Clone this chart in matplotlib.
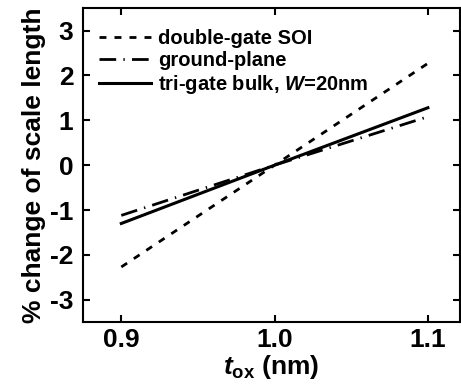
import numpy as np
import matplotlib
matplotlib.use("Agg")
import matplotlib.pyplot as plt
from matplotlib import rcParams

rcParams.update({
    "font.family": "Liberation Sans",
    "font.weight": "bold",
    "axes.labelweight": "bold",
    "axes.unicode_minus": False,
    "mathtext.fontset": "custom",
    "mathtext.rm": "Liberation Sans:bold",
    "mathtext.it": "Liberation Sans:italic:bold",
    "mathtext.bf": "Liberation Sans:bold",
})

# values
t_ox = [0.9, 1.0, 1.1]
dg_soi = [-2.27, 0.0, 2.27]
ground_plane = [-1.12, 0.0, 1.08]
tri_gate = [-1.3, 0.0, 1.28]
labels = ["double-gate SOI", "ground-plane", r"tri-gate bulk, $W$=20nm"]

fig = plt.figure(figsize=(4.61, 3.9), dpi=100)
ax = fig.add_axes([0.18, 0.174, 0.818, 0.805])

ax.plot(t_ox, dg_soi, color="k", lw=2, dashes=(2.5, 2.9), label=labels[0])
ax.plot(t_ox, ground_plane, color="k", lw=2, dashes=(6.0, 2.6, 0.5, 2.6), label=labels[1])
ax.plot(t_ox, tri_gate, color="k", lw=2.2, label=labels[2])

ax.set_xlim(0.875, 1.121)
ax.set_ylim(-3.5, 3.5)
ax.set_xticks([0.9, 1.0, 1.1])
ax.set_xticklabels(["0.9", "1.0", "1.1"])
ax.set_yticks([-3, -2, -1, 0, 1, 2, 3])
ax.tick_params(direction="in", length=5, width=1.5, top=True, right=True,
               labelsize=19, pad=4)
ax.tick_params(axis="y", pad=7)
for sp in ax.spines.values():
    sp.set_linewidth(1.5)

ax.set_xlabel(r"$t_{\mathrm{ox}}$ (nm)", fontsize=19, labelpad=1)
ax.set_ylabel("% change of scale length", fontsize=19, labelpad=3)

ax.legend(loc="upper left", frameon=False, fontsize=14.5, handlelength=2.6,
          handletextpad=0.35, labelspacing=0.15, borderaxespad=0.0,
          bbox_to_anchor=(0.02, 0.96))

fig.savefig("out.png", dpi=100)
